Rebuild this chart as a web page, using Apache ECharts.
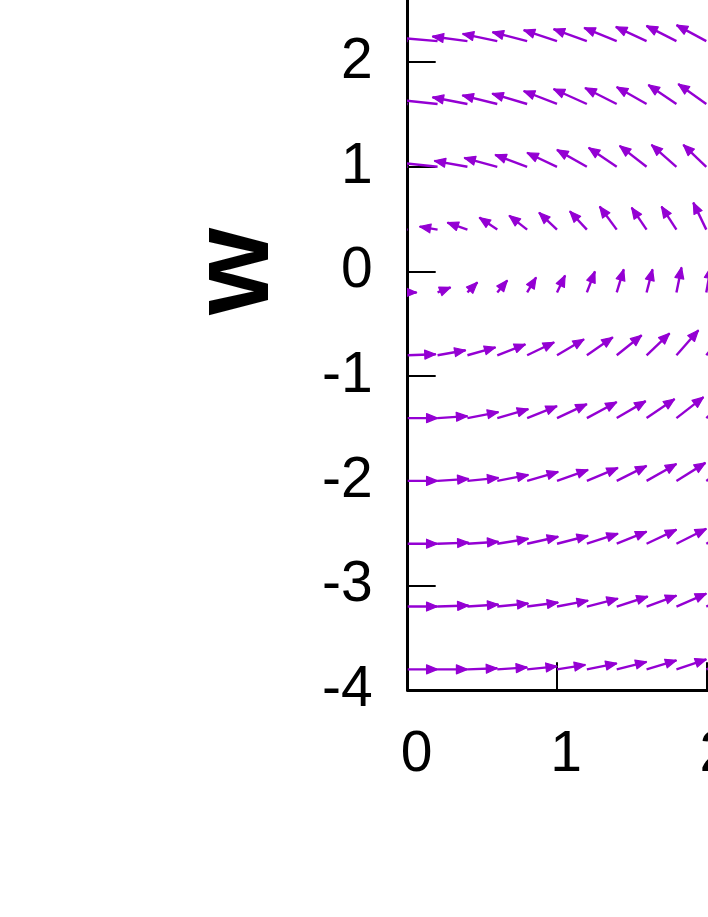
<!DOCTYPE html>
<html><head><meta charset="utf-8">
<script src="https://cdn.jsdelivr.net/npm/echarts@6/dist/echarts.min.js"></script>
<style>html,body{margin:0;padding:0;background:#fff}#c{width:708px;height:917px}</style>
</head><body><div id="c"></div>
<script>
// tail positions of the vector grid
const xTails = [0, 0.2, 0.4, 0.6, 0.8, 1.0, 1.2, 1.4, 1.6, 1.8, 2.0];
const wRows  = [2.2, 1.6, 1.0, 0.4, -0.2, -0.8, -1.4, -2.0, -2.6, -3.2, -3.8];

// vector components (dx, dw) per row
const dx_p22 = [-0.234,-0.234,-0.234,-0.232,-0.232,-0.223,-0.223,-0.218,-0.206,-0.201,-0.199];
const dw_p22 = [0.019,0.029,0.045,0.070,0.086,0.105,0.115,0.127,0.137,0.146,0.153];
const dx_p16 = [-0.234,-0.234,-0.234,-0.234,-0.234,-0.223,-0.223,-0.212,-0.200,-0.188,-0.188];
const dw_p16 = [0.020,0.035,0.064,0.083,0.098,0.124,0.143,0.153,0.162,0.182,0.191];
const dx_p10 = [-0.220,-0.222,-0.221,-0.221,-0.214,-0.200,-0.200,-0.188,-0.180,-0.167,-0.154];
const dw_p10 = [0.020,0.035,0.057,0.086,0.115,0.134,0.162,0.182,0.200,0.210,0.210];
const dx_p04 = [-0.120,-0.120,-0.134,-0.120,-0.120,-0.120,-0.114,-0.114,-0.100,-0.100,-0.087];
const dw_p04 = [0.010,0.029,0.067,0.115,0.134,0.162,0.176,0.220,0.210,0.220,0.258];
const dx_m02 = [0.060,0.087,0.067,0.067,0.060,0.054,0.054,0.047,0.040,0.034,0.030];
const dw_m02 = [0.000,0.048,0.096,0.115,0.143,0.162,0.200,0.220,0.220,0.239,0.240];
const dx_m08 = [0.188,0.188,0.188,0.188,0.181,0.181,0.174,0.167,0.154,0.147,0.140];
const dw_m08 = [0.010,0.048,0.076,0.105,0.124,0.153,0.172,0.191,0.210,0.239,0.250];
const dx_m14 = [0.200,0.200,0.208,0.208,0.200,0.200,0.200,0.194,0.188,0.181,0.174];
const dw_m14 = [0.000,0.019,0.057,0.086,0.115,0.134,0.153,0.162,0.182,0.200,0.210];
const dx_m20 = [0.200,0.208,0.208,0.208,0.208,0.208,0.208,0.200,0.200,0.194,0.190];
const dw_m20 = [0.000,0.019,0.029,0.057,0.086,0.105,0.124,0.143,0.162,0.172,0.180];
const dx_m26 = [0.200,0.208,0.208,0.208,0.208,0.208,0.208,0.200,0.200,0.200,0.200];
const dw_m26 = [0.000,0.010,0.019,0.048,0.067,0.076,0.096,0.115,0.134,0.143,0.150];
const dx_m32 = [0.200,0.208,0.208,0.208,0.208,0.208,0.208,0.208,0.200,0.200,0.200];
const dw_m32 = [0.000,0.010,0.019,0.029,0.038,0.057,0.076,0.096,0.105,0.124,0.130];
const dx_m38 = [0.200,0.200,0.200,0.200,0.200,0.190,0.200,0.200,0.200,0.200,0.200];
const dw_m38 = [0.000,0.000,0.010,0.019,0.029,0.043,0.057,0.072,0.086,0.096,0.100];

const dxRows = [dx_p22, dx_p16, dx_p10, dx_p04, dx_m02, dx_m08, dx_m14, dx_m20, dx_m26, dx_m32, dx_m38];
const dwRows = [dw_p22, dw_p16, dw_p10, dw_p04, dw_m02, dw_m08, dw_m14, dw_m20, dw_m26, dw_m32, dw_m38];

const vectors = [];
wRows.forEach((w, r) => {
  xTails.forEach((x, c) => {
    vectors.push([x, w, dxRows[r][c], dwRows[r][c]]);
  });
});

const X_MIN = 0, X_MAX = 6, W_MIN = -4, W_MAX = 4;
const purple = '#9400D3';
const fontFam = '"Liberation Sans", Arial, sans-serif';

const chart = echarts.init(document.getElementById('c'), null, {renderer: 'canvas'});
chart.setOption({
  animation: false,
  backgroundColor: '#fff',
  grid: {left: 407.7, top: -147.3, width: 895.8, height: 837.6, containLabel: false, outerBoundsMode: 'none'},
  xAxis: {
    type: 'value', min: X_MIN, max: X_MAX, interval: 1,
    axisLine: {show: true, onZero: false, lineStyle: {color: '#000', width: 3}},
    axisTick: {show: true, inside: true, length: 28, lineStyle: {color: '#000', width: 2}},
    axisLabel: {show: true, color: '#000', fontSize: 57, fontFamily: fontFam, margin: 36, padding: [0, 0, 0, 18]},
    splitLine: {show: false}
  },
  yAxis: {
    type: 'value', min: W_MIN, max: W_MAX, interval: 1,
    name: 'w', nameLocation: 'middle', nameRotate: 90, nameGap: 115,
    nameTextStyle: {color: '#000', fontSize: 112, fontWeight: 'bold', fontFamily: fontFam},
    axisLine: {show: true, onZero: false, lineStyle: {color: '#000', width: 3}},
    axisTick: {show: true, inside: true, length: 28, lineStyle: {color: '#000', width: 2}},
    axisLabel: {show: true, color: '#000', fontSize: 57, fontFamily: fontFam, margin: 35},
    splitLine: {show: false}
  },
  series: [{
    type: 'custom',
    clip: true,
    data: vectors,
    renderItem: function (params, api) {
      const x0 = api.value(0), w0 = api.value(1), dx = api.value(2), dw = api.value(3);
      const p0 = api.coord([x0, w0]);
      const p1 = api.coord([x0 + dx, w0 + dw]);
      const ang = Math.atan2(p1[1] - p0[1], p1[0] - p0[0]);
      const hl = 11, hw = 4.5;
      const c = Math.cos(ang), s = Math.sin(ang);
      const bx = p1[0] - hl * c, by = p1[1] - hl * s;
      const children = [{
        type: 'line',
        shape: {x1: p0[0], y1: p0[1], x2: p1[0], y2: p1[1]},
        style: {stroke: purple, lineWidth: 2.4}
      }];
      if (x0 + dx >= X_MIN) {
        children.push({
          type: 'polygon',
          shape: {points: [[p1[0], p1[1]], [bx - hw * s, by + hw * c], [bx + hw * s, by - hw * c]]},
          style: {fill: purple, stroke: purple, lineWidth: 1.2, lineJoin: 'round'}
        });
      }
      return {type: 'group', children: children};
    },
    z: 1
  }]
});
</script>
</body></html>
